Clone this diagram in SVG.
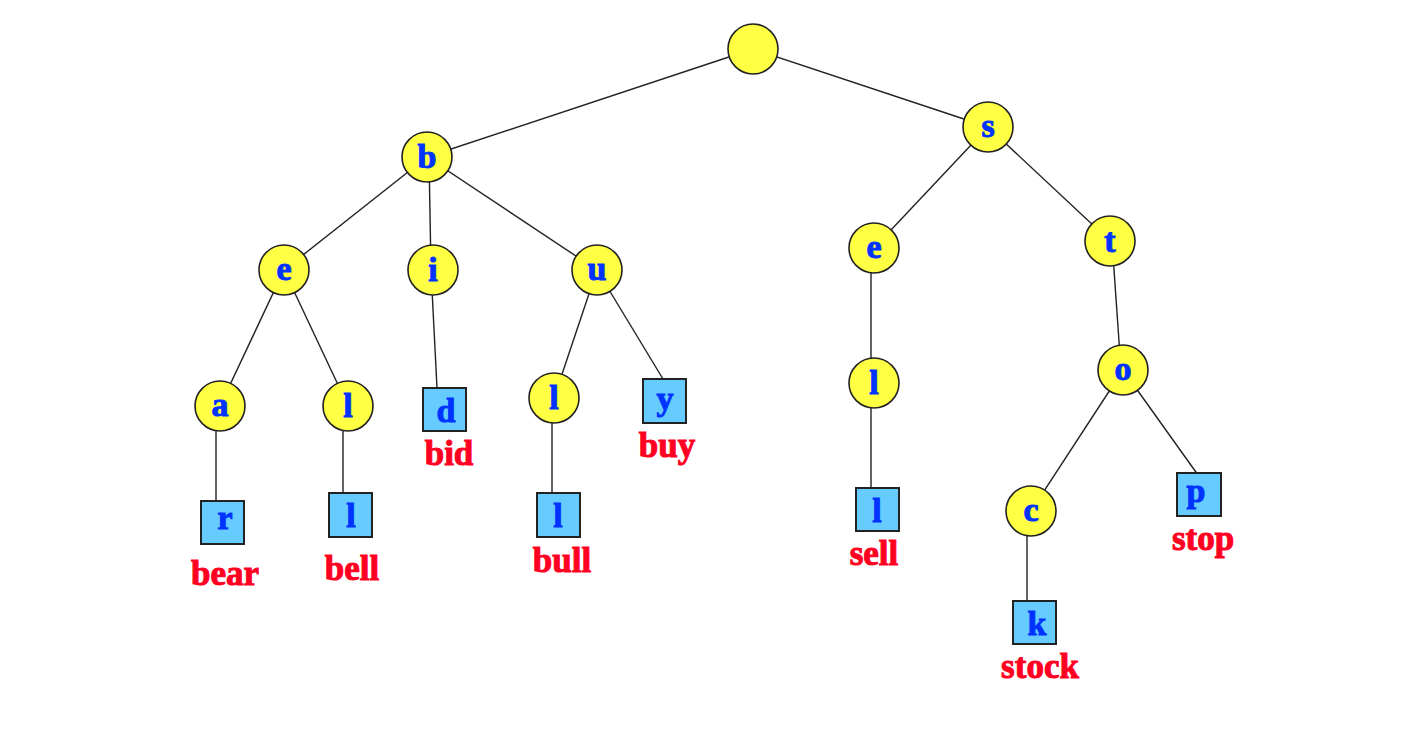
<svg xmlns="http://www.w3.org/2000/svg" width="1412" height="742" viewBox="0 0 1412 742">
<style>
.n circle{fill:#ffff44;stroke:#222;stroke-width:1.6}
.n rect{fill:#66ccff;stroke:#222;stroke-width:2}
.n text{font-family:"Liberation Serif","DejaVu Serif",serif;font-weight:bold;font-size:34px;fill:#0033ff;stroke:#0033ff;stroke-width:1;text-anchor:middle}
.lbl{font-family:"Liberation Serif","DejaVu Serif",serif;font-weight:bold;font-size:35px;fill:#ff0022;stroke:#ff0022;stroke-width:1;text-anchor:middle}
#edges line{stroke:#222;stroke-width:1.4}
</style>
<rect width="1412" height="742" fill="#fff"/>
<g id="edges">
<line x1="753" y1="49" x2="427" y2="157"/>
<line x1="753" y1="49" x2="988" y2="127"/>
<line x1="427" y1="157" x2="284" y2="270"/>
<line x1="429" y1="157" x2="431" y2="270"/>
<line x1="427" y1="157" x2="597" y2="270"/>
<line x1="284" y1="270" x2="220" y2="406"/>
<line x1="284" y1="270" x2="348" y2="406"/>
<line x1="216" y1="406" x2="216" y2="501"/>
<line x1="343" y1="406" x2="343" y2="493"/>
<line x1="431" y1="270" x2="437" y2="388"/>
<line x1="597" y1="270" x2="554" y2="398"/>
<line x1="597" y1="270" x2="663" y2="379"/>
<line x1="552" y1="398" x2="552" y2="493"/>
<line x1="988" y1="127" x2="874" y2="248"/>
<line x1="988" y1="127" x2="1110" y2="241"/>
<line x1="871" y1="248" x2="871" y2="383"/>
<line x1="871" y1="383" x2="871" y2="488"/>
<line x1="1112" y1="241" x2="1121" y2="370"/>
<line x1="1123" y1="370" x2="1031" y2="511"/>
<line x1="1123" y1="370" x2="1198" y2="475"/>
<line x1="1027" y1="511" x2="1027" y2="601"/>
</g>
<g id="root" class="n"><circle cx="753" cy="49" r="25"/></g>
<g id="b" class="n"><circle cx="427" cy="157" r="25"/><text x="427" y="168">b</text></g>
<g id="e1" class="n"><circle cx="284" cy="270" r="25"/><text x="284" y="280">e</text></g>
<g id="i" class="n"><circle cx="433" cy="270" r="25"/><text x="433" y="281">i</text></g>
<g id="u" class="n"><circle cx="597" cy="270" r="25"/><text x="597" y="280">u</text></g>
<g id="a" class="n"><circle cx="220" cy="406" r="25"/><text x="220" y="416">a</text></g>
<g id="l1" class="n"><circle cx="348" cy="406" r="25"/><text x="348" y="417">l</text></g>
<g id="l2" class="n"><circle cx="554" cy="398" r="25"/><text x="554" y="409">l</text></g>
<g id="s" class="n"><circle cx="988" cy="127" r="25"/><text x="988" y="137">s</text></g>
<g id="e2" class="n"><circle cx="874" cy="248" r="25"/><text x="874" y="258">e</text></g>
<g id="t" class="n"><circle cx="1110" cy="241" r="25"/><text x="1110" y="252">t</text></g>
<g id="l3" class="n"><circle cx="874" cy="383" r="25"/><text x="874" y="394">l</text></g>
<g id="o" class="n"><circle cx="1123" cy="370" r="25"/><text x="1123" y="380">o</text></g>
<g id="c" class="n"><circle cx="1031" cy="511" r="25"/><text x="1031" y="521">c</text></g>
<g id="r" class="n"><rect x="201" y="501" width="43" height="43"/><text x="225" y="529">r</text></g>
<g id="lbell" class="n"><rect x="329" y="493" width="43" height="44"/><text x="351" y="527">l</text></g>
<g id="d" class="n"><rect x="423" y="388" width="43" height="43"/><text x="446" y="422">d</text></g>
<g id="lbull" class="n"><rect x="537" y="493" width="43" height="44"/><text x="558" y="527">l</text></g>
<g id="y" class="n"><rect x="643" y="379" width="43" height="44"/><text x="665" y="410">y</text></g>
<g id="lsell" class="n"><rect x="856" y="488" width="43" height="43"/><text x="877" y="522">l</text></g>
<g id="k" class="n"><rect x="1013" y="601" width="43" height="43"/><text x="1037" y="635">k</text></g>
<g id="p" class="n"><rect x="1177" y="473" width="44" height="43"/><text x="1196" y="502">p</text></g>
<g id="labels">
<text class="lbl" x="225" y="585">bear</text>
<text class="lbl" x="352" y="580">bell</text>
<text class="lbl" x="449" y="465">bid</text>
<text class="lbl" x="562" y="572">bull</text>
<text class="lbl" x="667" y="457">buy</text>
<text class="lbl" x="874" y="565">sell</text>
<text class="lbl" x="1040" y="678">stock</text>
<text class="lbl" x="1203" y="550">stop</text>
</g>
</svg>
